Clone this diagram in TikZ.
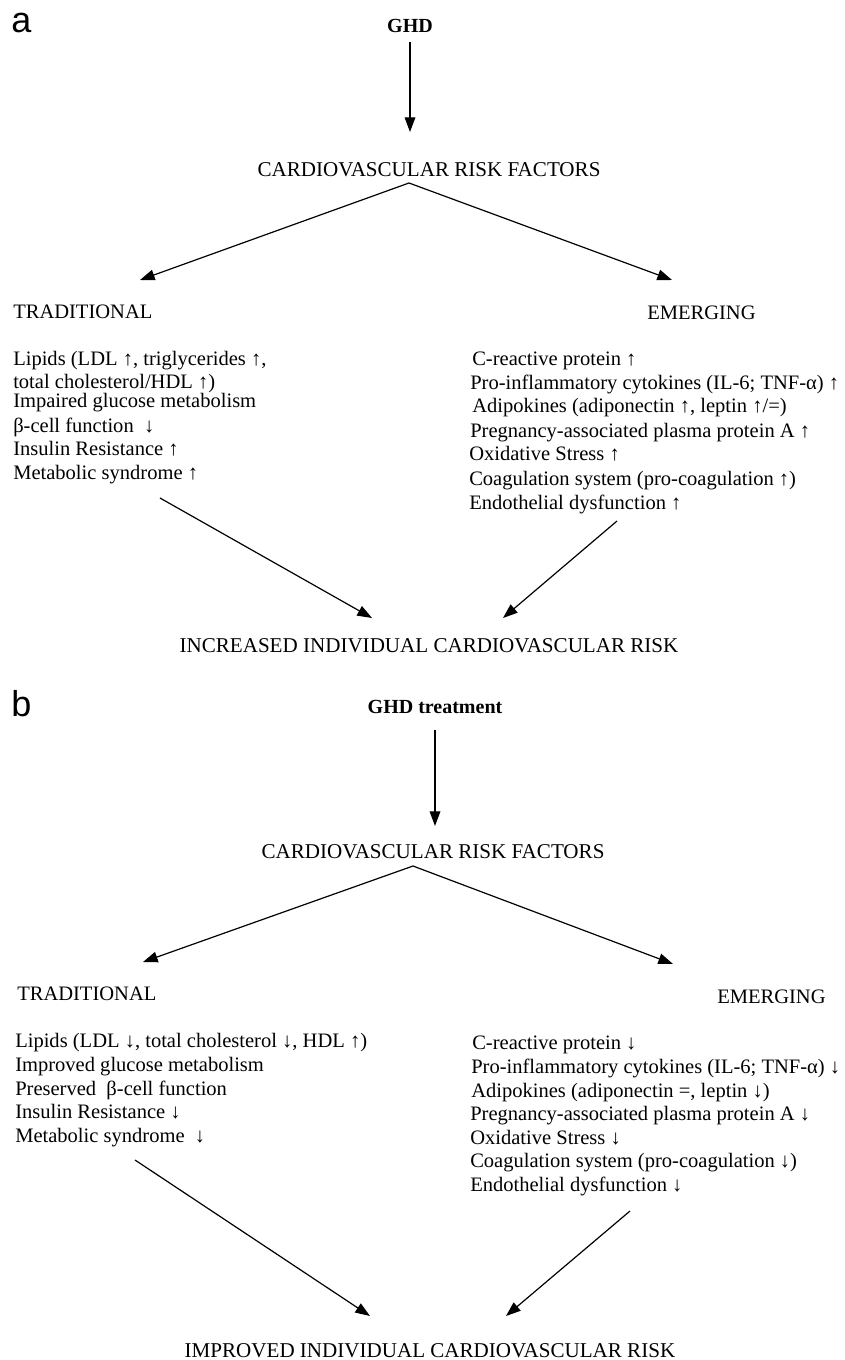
\documentclass[tikz,border=0pt]{standalone}
\usepackage{fontspec}
\setmainfont{Liberation Serif}
\newfontfamily\panelfont{Liberation Sans}
\usetikzlibrary{arrows.meta}
\begin{document}
\begin{tikzpicture}[x=0.75pt,y=-0.75pt,
  txt/.style={inner sep=0pt,font=\fontsize{15.4}{18}\selectfont},
  hdr/.style={inner sep=0pt,font=\fontsize{15.8}{18}\selectfont},
  ttl/.style={inner sep=0pt,font=\fontsize{15}{18}\selectfont\bfseries},
  plbl/.style={inner sep=0pt,font=\panelfont\fontsize{27}{27}\selectfont},
  arr/.style={-{Triangle[length=11pt,width=8pt]},line width=0.9pt}]
\useasboundingbox (0,0) rectangle (845,1360);
% ---------------- panel a ----------------
\node[plbl,anchor=base west] (pa) at (11,32) {a};
\node[ttl,anchor=base] (ghdA) at (410,32) {GHD};
\node[hdr,anchor=base] (crfA) at (429,176) {CARDIOVASCULAR RISK FACTORS};
\coordinate (apexA) at (409,183);
\node[txt,anchor=base west] (tradA) at (13,318) {TRADITIONAL};
\node[txt,anchor=base west] (emA) at (647,319) {EMERGING};
\coordinate (tlA) at (140,280);
\coordinate (trA) at (672,280);
\node[txt,anchor=base west] (la1) at (13,365) {Lipids (LDL ↑, triglycerides ↑,};
\node[txt,anchor=base west] (la2) at (13,388) {total cholesterol/HDL ↑)};
\node[txt,anchor=base west] (la3) at (13,407) {Impaired glucose metabolism};
\node[txt,anchor=base west] (la4) at (13,432) {β-cell function\ \ ↓};
\node[txt,anchor=base west] (la5) at (13,455) {Insulin Resistance ↑};
\node[txt,anchor=base west] (la6) at (13,479) {Metabolic syndrome ↑};
\node[txt,anchor=base west] (ra1) at (472,365) {C-reactive protein ↑};
\node[txt,anchor=base west] (ra2) at (470,389) {Pro-inflammatory cytokines (IL-6; TNF-α) ↑};
\node[txt,anchor=base west] (ra3) at (472,412) {Adipokines (adiponectin ↑, leptin ↑/=)};
\node[txt,anchor=base west] (ra4) at (470,437) {Pregnancy-associated plasma protein A ↑};
\node[txt,anchor=base west] (ra5) at (469,460) {Oxidative Stress ↑};
\node[txt,anchor=base west] (ra6) at (469,485) {Coagulation system (pro-coagulation ↑)};
\node[txt,anchor=base west] (ra7) at (469,509) {Endothelial dysfunction ↑};
\node[hdr,anchor=base] (incA) at (429,652) {INCREASED INDIVIDUAL CARDIOVASCULAR RISK};
\coordinate (slA) at (160,498);
\coordinate (elA) at (372,618);
\coordinate (srA) at (617,521);
\coordinate (erA) at (503,618);
\draw[arr] (ghdA.south) ++(0,10) coordinate (ghdAs) -- (ghdAs |- 0,132);
\draw[arr] (apexA) -- (tlA);
\draw[arr] (apexA) -- (trA);
\draw[arr] (slA) -- (elA);
\draw[arr] (srA) -- (erA);
% ---------------- panel b ----------------
\node[plbl,anchor=base west] (pb) at (11,716) {b};
\node[ttl,anchor=base] (ghdB) at (435,713) {GHD treatment};
\node[hdr,anchor=base] (crfB) at (433,858) {CARDIOVASCULAR RISK FACTORS};
\coordinate (apexB) at (413,866);
\node[txt,anchor=base west] (tradB) at (17,1000) {TRADITIONAL};
\node[txt,anchor=base west] (emB) at (717,1003) {EMERGING};
\coordinate (tlB) at (143,962);
\coordinate (trB) at (673,964);
\node[txt,anchor=base west] (lb1) at (15,1047) {Lipids (LDL ↓, total cholesterol ↓, HDL ↑)};
\node[txt,anchor=base west] (lb2) at (15,1071) {Improved glucose metabolism};
\node[txt,anchor=base west] (lb3) at (15,1095) {Preserved\ \ β-cell function};
\node[txt,anchor=base west] (lb4) at (15,1118) {Insulin Resistance ↓};
\node[txt,anchor=base west] (lb5) at (15,1142) {Metabolic syndrome\ \ ↓};
\node[txt,anchor=base west] (rb1) at (472,1049) {C-reactive protein ↓};
\node[txt,anchor=base west] (rb2) at (471,1073) {Pro-inflammatory cytokines (IL-6; TNF-α) ↓};
\node[txt,anchor=base west] (rb3) at (471,1097) {Adipokines (adiponectin =, leptin ↓)};
\node[txt,anchor=base west] (rb4) at (470,1120) {Pregnancy-associated plasma protein A ↓};
\node[txt,anchor=base west] (rb5) at (470,1144) {Oxidative Stress ↓};
\node[txt,anchor=base west] (rb6) at (470,1167) {Coagulation system (pro-coagulation ↓)};
\node[txt,anchor=base west] (rb7) at (470,1191) {Endothelial dysfunction ↓};
\node[hdr,anchor=base] (impB) at (430,1357) {IMPROVED INDIVIDUAL CARDIOVASCULAR RISK};
\coordinate (slB) at (135,1160);
\coordinate (elB) at (370,1316);
\coordinate (srB) at (630,1211);
\coordinate (erB) at (506,1316);
\draw[arr] (ghdB.south) ++(0,17) coordinate (ghdBs) -- (ghdBs |- 0,826);
\draw[arr] (apexB) -- (tlB);
\draw[arr] (apexB) -- (trB);
\draw[arr] (slB) -- (elB);
\draw[arr] (srB) -- (erB);
\end{tikzpicture}
\end{document}
